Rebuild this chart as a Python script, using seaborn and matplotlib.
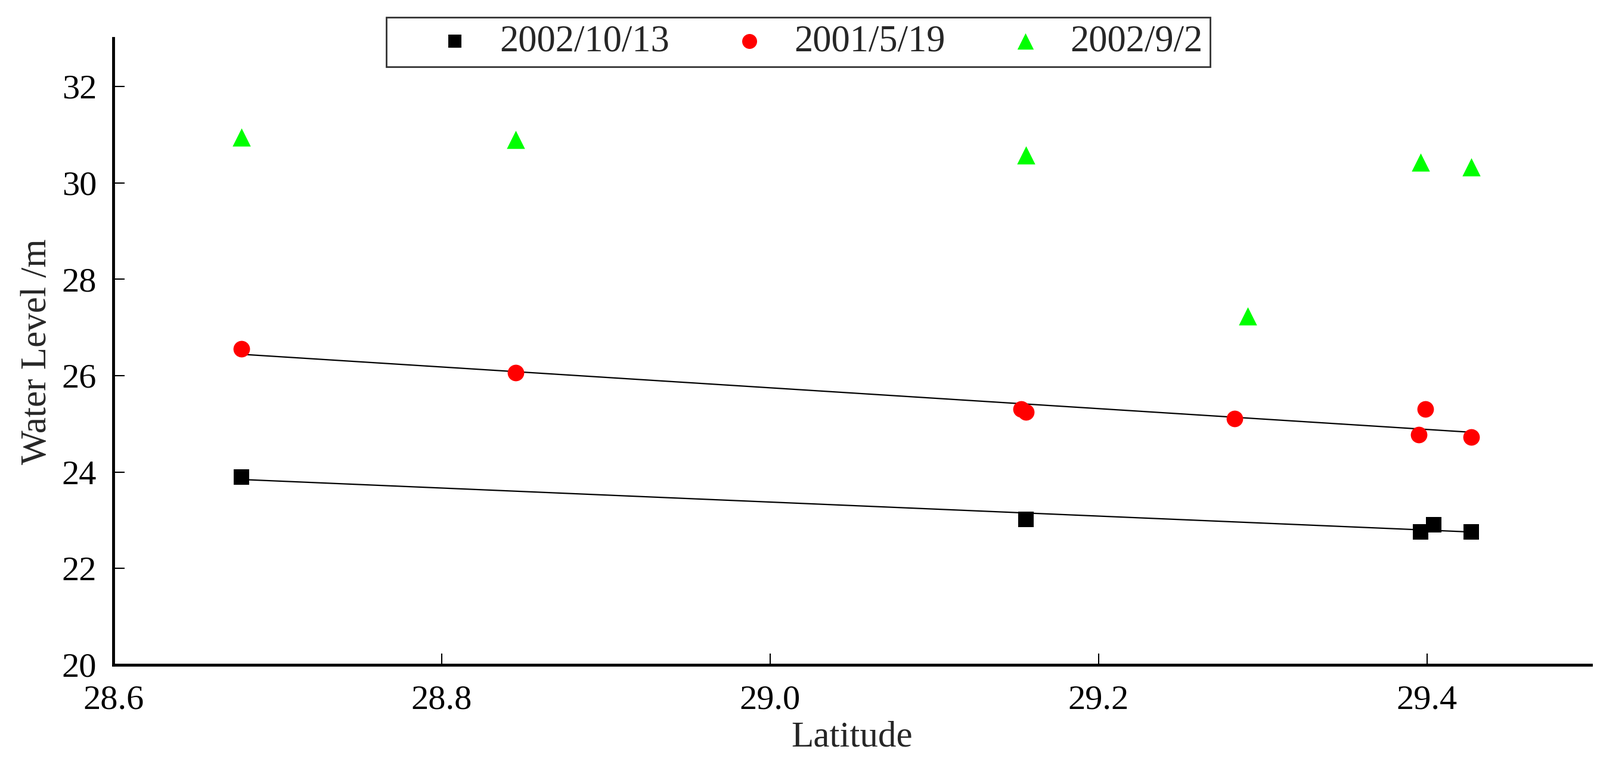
import numpy as np
import pandas as pd
import matplotlib
matplotlib.use("Agg")
import matplotlib.pyplot as plt
import seaborn as sns

# values
lat_oct = [28.678, 29.156, 29.396, 29.404, 29.427]
wl_oct = [23.89, 23.02, 22.76, 22.91, 22.76]

lat_may = [28.678, 28.845, 29.153, 29.156, 29.283, 29.395, 29.399, 29.427]
wl_may = [26.55, 26.06, 25.31, 25.25, 25.11, 24.78, 25.31, 24.72]

lat_sep = [28.678, 28.845, 29.156, 29.291, 29.396, 29.427]
wl_sep = [30.95, 30.90, 30.58, 27.23, 30.43, 30.33]

series_names = ["2002/10/13", "2001/5/19", "2002/9/2"]

sns.set_style("ticks")
plt.rcParams["font.family"] = ["Liberation Serif", "DejaVu Serif"]

fig = plt.figure(figsize=(26.84, 12.93), dpi=100)
ax = fig.add_subplot(111)
fig.subplots_adjust(left=0.0708, right=0.9944, bottom=0.1377, top=0.9505)

df_oct = pd.DataFrame({"lat": lat_oct, "wl": wl_oct})
df_may = pd.DataFrame({"lat": lat_may, "wl": wl_may})
df_sep = pd.DataFrame({"lat": lat_sep, "wl": wl_sep})

sns.scatterplot(data=df_oct, x="lat", y="wl", marker="s", s=330, color="black",
                linewidth=0, label=series_names[0], ax=ax, zorder=3)
sns.scatterplot(data=df_may, x="lat", y="wl", marker="o", s=400, color="red",
                linewidth=0, label=series_names[1], ax=ax, zorder=3)
sns.scatterplot(data=df_sep, x="lat", y="wl", marker="^", s=480, color="#00ff00",
                linewidth=0, label=series_names[2], ax=ax, zorder=3)

# linear fits for the two lower series
sns.regplot(data=df_oct, x="lat", y="wl", scatter=False, ci=None, truncate=True,
            color="black", line_kws={"lw": 1.6}, ax=ax)
sns.regplot(data=df_may, x="lat", y="wl", scatter=False, ci=None, truncate=True,
            color="black", line_kws={"lw": 1.6}, ax=ax)

ax.set_xlim(28.6, 29.5)
ax.set_ylim(20, 33)
ax.set_xticks([28.6, 28.8, 29.0, 29.2, 29.4])
ax.set_xticklabels(["28.6", "28.8", "29.0", "29.2", "29.4"])
ax.set_yticks([20, 22, 24, 26, 28, 30, 32])

sns.despine(ax=ax)
for side in ["left", "bottom"]:
    ax.spines[side].set_linewidth(3.5)
    ax.spines[side].set_color("black")

ax.tick_params(direction="in", length=14, width=1.5, labelsize=42, colors="black")
ax.tick_params(axis="x", pad=24)
ax.tick_params(axis="y", pad=20)

ax.set_xlabel("Latitude", fontsize=44, labelpad=6)
ax.set_ylabel("Water Level /m", fontsize=44, labelpad=10)

ax.get_legend().remove()
handles, labels = ax.get_legend_handles_labels()
leg = fig.legend(handles, labels, ncol=3, loc="upper center",
                 bbox_to_anchor=(0.4988, 0.9776), borderaxespad=0,
                 fontsize=45, frameon=True,
                 fancybox=False, edgecolor="black", markerscale=0.9,
                 columnspacing=0.5, handletextpad=-0.45, borderpad=0.2,
                 handlelength=3.3)
leg.get_frame().set_linewidth(2)

fig.savefig("out.png", dpi=100)
